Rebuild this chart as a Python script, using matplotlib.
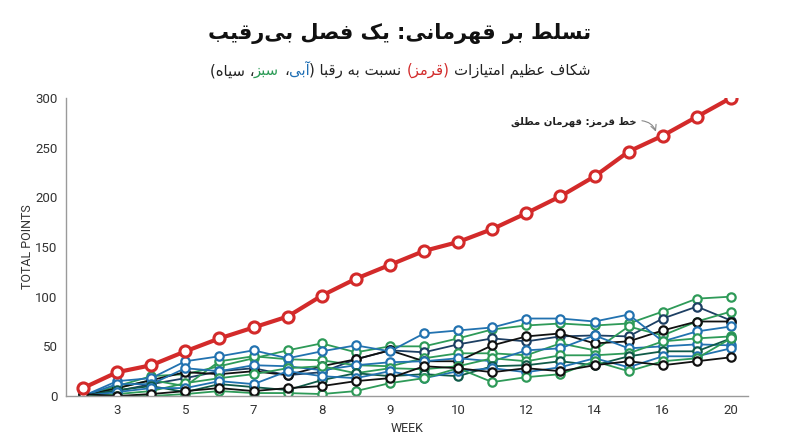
import matplotlib
matplotlib.use("Agg")
import matplotlib.pyplot as plt

# datos: semanas (1..20) y puntos acumulados
semanas = list(range(1, 21))
etiquetas_x = ["3", "5", "7", "8", "9", "10", "12", "14", "16", "20"]
pos_etiquetas = [2, 4, 6, 8, 10, 12, 14, 16, 18, 20]

rojo = [8, 24, 31, 45, 58, 69, 80, 101, 118, 132,
        146, 155, 168, 184, 201, 221, 246, 262, 281, 300]

verde1 = [0, 10, 20, 22, 30, 38, 46, 53, 44, 50, 50, 58, 67, 71, 73, 71, 73, 85, 98, 100]
azul_osc = [0, 5, 12, 18, 25, 28, 21, 24, 37, 46, 44, 52, 58, 55, 60, 61, 60, 78, 90, 76]
verde2 = [0, 8, 16, 10, 35, 40, 37, 36, 31, 30, 38, 43, 43, 41, 53, 46, 70, 61, 75, 85]
negro1 = [0, 8, 16, 24, 22, 25, 21, 30, 37, 46, 35, 35, 51, 60, 63, 53, 55, 66, 75, 75]
azul1 = [0, 15, 18, 35, 40, 46, 38, 45, 51, 45, 63, 66, 69, 78, 78, 75, 82, 55, 65, 70]
azul2 = [0, 12, 12, 28, 25, 31, 30, 26, 31, 34, 35, 38, 35, 46, 48, 61, 48, 50, 52, 51]
verde3 = [0, 2, 5, 13, 18, 22, 28, 30, 23, 28, 27, 30, 38, 35, 41, 41, 43, 55, 58, 60]
verde_osc = [0, 6, 10, 4, 12, 9, 6, 16, 23, 20, 22, 20, 30, 31, 35, 31, 40, 45, 45, 58]
azul3 = [0, 4, 8, 8, 15, 12, 25, 20, 18, 25, 18, 25, 28, 24, 29, 38, 29, 40, 40, 48]
verde4 = [0, 0, 0, 2, 5, 3, 3, 2, 5, 13, 18, 28, 14, 19, 22, 35, 25, 35, 38, 58]
negro2 = [2, 0, 2, 5, 8, 5, 8, 10, 15, 18, 30, 28, 24, 28, 25, 31, 35, 31, 35, 39]

rivales = [verde1, azul_osc, verde2, negro1, azul1, azul2, verde3, verde_osc, azul3, verde4, negro2]
colores_rivales = ["#2e9a58", "#1d3f63", "#2e9a58", "#111111", "#2272b0", "#2272b0",
                   "#2e9a58", "#0f5a48", "#2272b0", "#2e9a58", "#111111"]

titulo = "تسلط بر قهرمانی: یک فصل بی\u200cرقیب"
subtitulo = [("شکاف عظیم امتیازات ", "#222222"), ("(قرمز)", "#d22b2b"),
             (" نسبت به رقبا (", "#222222"), ("آبی", "#1f6fb4"), ("، ", "#222222"),
             ("سبز", "#2a9a55"), ("، سیاه)", "#222222")]
nota = "خط قرمز: قهرمان مطلق"

# formas de presentacion arabes (aislada, final, inicial, media)
FORMAS = {}
for letra, base in [("ب", 0xFE8F), ("ت", 0xFE95), ("ث", 0xFE99), ("ج", 0xFE9D), ("ح", 0xFEA1),
                    ("خ", 0xFEA5), ("س", 0xFEB1), ("ش", 0xFEB5), ("ص", 0xFEB9), ("ض", 0xFEBD),
                    ("ط", 0xFEC1), ("ظ", 0xFEC5), ("ع", 0xFEC9), ("غ", 0xFECD), ("ف", 0xFED1),
                    ("ق", 0xFED5), ("ك", 0xFED9), ("ل", 0xFEDD), ("م", 0xFEE1), ("ن", 0xFEE5),
                    ("ه", 0xFEE9), ("ي", 0xFEF1), ("ئ", 0xFE89), ("پ", 0xFB56), ("چ", 0xFB7A),
                    ("ک", 0xFB8E), ("گ", 0xFB92), ("ی", 0xFBFC)]:
    FORMAS[letra] = (chr(base), chr(base + 1), chr(base + 2), chr(base + 3))
for letra, base in [("آ", 0xFE81), ("أ", 0xFE83), ("ؤ", 0xFE85), ("إ", 0xFE87), ("ا", 0xFE8D),
                    ("ة", 0xFE93), ("د", 0xFEA9), ("ذ", 0xFEAB), ("ر", 0xFEAD), ("ز", 0xFEAF),
                    ("و", 0xFEED), ("ى", 0xFEEF), ("ژ", 0xFB8A)]:
    FORMAS[letra] = (chr(base), chr(base + 1), None, None)


def formar(s):
    out = []
    for i, c in enumerate(s):
        if c not in FORMAS:
            out.append(c)
            continue
        iso, fin, ini, med = FORMAS[c]
        prev = s[i - 1] if i > 0 else ""
        sig = s[i + 1] if i + 1 < len(s) else ""
        une_prev = prev in FORMAS and FORMAS[prev][2] is not None
        une_sig = ini is not None and sig in FORMAS
        if une_prev and une_sig:
            out.append(med)
        elif une_prev:
            out.append(fin)
        elif une_sig:
            out.append(ini)
        else:
            out.append(iso)
    return "".join(out).replace("\u200c", "")


def visual(s):
    espejo = {"(": ")", ")": "("}
    return "".join(espejo.get(c, c) for c in reversed(formar(s)))


plt.rcParams["font.family"] = ["Roboto", "DejaVu Sans"]
fa = ["DejaVu Sans"]

fig = plt.figure(figsize=(8, 4.47), dpi=100)
ax = fig.add_axes([0.0825, 0.114, 0.8525, 0.667])

for serie, col in zip(rivales, colores_rivales):
    ax.plot(semanas, serie, color=col, lw=1.3, marker="o", ms=6,
            mfc="white", mec=col, mew=1.6)
ax.plot(semanas, rojo, color="#d32a2a", lw=3, marker="o", ms=8,
        mfc="white", mec="#d32a2a", mew=2.2, zorder=5)

ax.set_xlim(0.5, 20.5)
ax.set_ylim(0, 300)
ax.set_xticks(pos_etiquetas)
ax.set_xticklabels(etiquetas_x)
ax.set_yticks([0, 50, 100, 150, 200, 250, 300])
ax.tick_params(length=0, labelsize=9.5, labelcolor="#333333", pad=6)
for lado in ["top", "right"]:
    ax.spines[lado].set_visible(False)
for lado in ["left", "bottom"]:
    ax.spines[lado].set_color("#9a9a9a")
    ax.spines[lado].set_linewidth(1)
ax.set_xlabel("WEEK", fontsize=9, color="#333333", labelpad=3)
ax.set_ylabel("TOTAL POINTS", fontsize=9, color="#333333", labelpad=1)

# nota sobre la linea roja
ax.text(17.22, 276, visual(nota), ha="right", va="center", fontsize=7.3,
        fontweight="bold", family=fa, color="#222222")
ax.annotate("", xy=(17.8, 266), xytext=(17.39, 277),
            arrowprops=dict(arrowstyle="->", color="#888888", lw=0.8,
                            connectionstyle="arc3,rad=-0.3", shrinkA=0, shrinkB=0))

fig.text(0.5, 1 - 34 / 447, visual(titulo), ha="center", va="center",
         fontsize=15, fontweight="bold", family=fa, color="#111111")

# subtitulo con palabras de color, colocado de derecha a izquierda
rend = fig.canvas.get_renderer()
W = fig.get_figwidth() * fig.dpi
y_sub = 1 - 75 / 447
t1 = fig.text(0, 0, "\uFE8D \uFE8D", fontsize=10.7, family=fa)
t2 = fig.text(0, 0, "\uFE8D\uFE8D", fontsize=10.7, family=fa)
ancho_esp = t1.get_window_extent(rend).width - t2.get_window_extent(rend).width
t1.remove()
t2.remove()

trozos = []
for txt, col in reversed(subtitulo):
    v = visual(txt)
    izq = len(v) - len(v.lstrip(" "))
    der = len(v) - len(v.rstrip(" "))
    t = fig.text(0, y_sub, v.strip(" "), fontsize=10.7, family=fa, color=col,
                 ha="left", va="baseline")
    trozos.append((t, izq, der, t.get_window_extent(rend).width))

total = sum(w + (i + d) * ancho_esp for t, i, d, w in trozos)
x = (W - total) / 2
for t, i, d, w in trozos:
    x += i * ancho_esp
    t.set_x(x / W)
    x += w + d * ancho_esp

fig.savefig("out.png", dpi=100)
